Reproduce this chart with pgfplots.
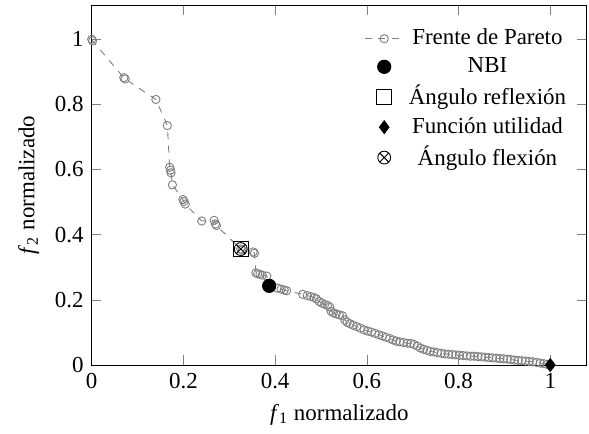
\documentclass[border=0pt]{standalone}
\usepackage{fontspec}
\setmainfont{Liberation Serif}
\usepackage{pgfplots}
\pgfplotsset{compat=1.18}
\usetikzlibrary{plotmarks}
\begin{document}
\begin{tikzpicture}
\begin{axis}[
  scale only axis,
  width=216pt, height=157pt,
  xmin=0, xmax=1.08, ymin=0, ymax=1.105,
  xtick={0,0.2,0.4,0.6,0.8,1},
  ytick={0,0.2,0.4,0.6,0.8,1},
  /pgf/number format/assume math mode=true,
  xlabel={\textit{f}\textsubscript{1} normalizado},
  ylabel={\textit{f}\textsubscript{2} normalizado},
  legend style={draw=none, fill=none, at={(0.982,0.96)}, anchor=north east},
  legend cell align=center,
]
\addplot[gray, dashed, mark=o, mark size=1.8pt, mark options={solid, gray}] coordinates {
(0,1.0) (0.002,0.995) (0.07,0.882) (0.073,0.878) (0.14,0.815) (0.165,0.735)
(0.170,0.607) (0.172,0.598) (0.173,0.590) (0.176,0.553) (0.199,0.508) (0.201,0.502)
(0.204,0.494) (0.240,0.442) (0.267,0.444) (0.270,0.433) (0.272,0.428) (0.325,0.356)
(0.328,0.353) (0.352,0.347) (0.355,0.343) (0.358,0.283) (0.362,0.280) (0.367,0.278)
(0.372,0.276) (0.382,0.273) (0.390,0.240) (0.405,0.236) (0.413,0.233) (0.420,0.230)
(0.425,0.228) (0.460,0.217) (0.470,0.213) (0.478,0.210) (0.485,0.207) (0.490,0.203)
(0.496,0.195) (0.502,0.190) (0.508,0.186) (0.514,0.183) (0.519,0.178) (0.522,0.165)
(0.527,0.160) (0.533,0.157) (0.540,0.154) (0.547,0.151) (0.552,0.138) (0.557,0.131)
(0.563,0.127) (0.570,0.122) (0.578,0.118) (0.586,0.113) (0.594,0.108) (0.602,0.104)
(0.610,0.101) (0.618,0.097) (0.626,0.093) (0.634,0.089) (0.642,0.085) (0.650,0.081)
(0.657,0.077) (0.664,0.073) (0.672,0.071) (0.680,0.069) (0.688,0.067) (0.696,0.066)
(0.703,0.063) (0.710,0.058) (0.717,0.052) (0.724,0.048) (0.731,0.045) (0.738,0.042)
(0.746,0.040) (0.754,0.038) (0.762,0.036) (0.770,0.034) (0.778,0.033) (0.786,0.032)
(0.794,0.031) (0.802,0.030) (0.810,0.029) (0.818,0.028) (0.826,0.027) (0.834,0.027)
(0.842,0.026) (0.850,0.025) (0.858,0.024) (0.866,0.023) (0.874,0.022) (0.882,0.021)
(0.890,0.020) (0.898,0.019) (0.906,0.018) (0.914,0.017) (0.922,0.015) (0.930,0.014)
(0.938,0.013) (0.946,0.012) (0.954,0.011) (0.962,0.010) (0.970,0.008) (0.978,0.006)
(0.986,0.004) (0.993,0.002) (1.0,0.0)
};
\addlegendentry{Frente de Pareto}
\addplot[only marks, mark=*, mark size=2.9pt, black] coordinates {(0.387,0.243)};
\addlegendentry{NBI}
\addplot[only marks, mark=square, mark size=3.2pt, black, mark options={fill=gray!60}] coordinates {(0.325,0.356)};
\addlegendentry{Ángulo reflexión}
\addplot[only marks, mark=diamond*, mark size=2.8pt, black] coordinates {(1.0,0.0)};
\addlegendentry{Función utilidad}
\addplot[only marks, mark=otimes, mark size=2.8pt, black] coordinates {(0.325,0.356)};
\addlegendentry{Ángulo flexión}
\end{axis}
\pgfresetboundingbox
\path ([xshift=-40pt,yshift=-30pt]current axis.south west) rectangle ([xshift=0.9pt,yshift=2.2pt]current axis.north east);
\end{tikzpicture}
\end{document}
